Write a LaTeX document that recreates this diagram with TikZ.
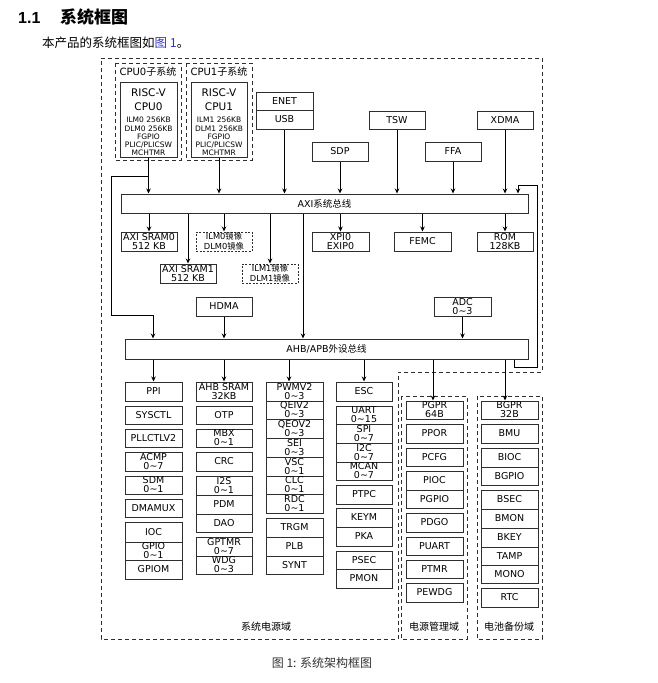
\documentclass[tikz,border=0pt]{standalone}
\usepackage{fontspec}
\setmainfont{DejaVu Sans}
\newfontfamily\cjk{Noto Sans CJK SC}
\newfontfamily\titlefont{Liberation Sans}
\usetikzlibrary{arrows.meta,calc}
\newcommand\zh[1]{{\cjk #1}}
\newcommand\tl{\textasciitilde}
\definecolor{ln}{HTML}{2E2E2E}
\definecolor{linkblue}{HTML}{3333CC}
\tikzset{
 box/.style={draw=ln, line width=1pt, inner sep=0pt, align=center, font=\fontsize{9.5}{9}\selectfont, text=black},
 dbox/.style={dash pattern=on 2pt off 1.5pt, font=\fontsize{8.3}{9.6}\selectfont},
 dom/.style={draw=ln, line width=1pt, dash pattern=on 4pt off 3pt},
 arr/.style={draw=black, line width=0.85pt, -{Stealth[length=5pt,width=4.5pt]}},
 lbl/.style={inner sep=0pt, font=\fontsize{10}{12}\selectfont},
 small/.style={inner sep=0pt, font=\fontsize{7.5}{8}\selectfont},
 big/.style={inner sep=0pt, font=\fontsize{10.5}{12}\selectfont},
}
\newcommand\bx[7][]{\node[box,#1,minimum width={#5pt-#3pt},minimum height={#6pt-#4pt}] (#2) at ({(#3+#5)/2},{(#4+#6)/2}) {#7};}
\begin{document}
\begin{tikzpicture}[x=1pt,y=-1pt]
\useasboundingbox (0,0) rectangle (658,683);
% title
\node[anchor=base west, inner sep=0pt, font=\titlefont\bfseries\fontsize{16}{18}\selectfont] (t11) at (18,23) {1.1};
\node[anchor=base west, inner sep=0pt, font=\cjk\bfseries\fontsize{17}{18}\selectfont] (t12) at (60,23) {系统框图};
\node[anchor=base west, inner sep=0pt, font=\cjk\fontsize{12.5}{13}\selectfont] (sub) at (42,47) {本产品的系统框图如\textcolor{linkblue}{图 1}。};
% domains
\draw[dom] (101,58) -- (542,58) -- (542,372) -- (398,372) -- (398,639) -- (101,639) -- cycle;
\draw[dom] (401,396) rectangle (467,639);
\draw[dom] (477,396) rectangle (542,639);
\draw[dom] (115,63) rectangle (181,160);
\draw[dom] (186,63) rectangle (252,160);
\node[lbl] (cpu0lbl) at (148,72) {CPU0\zh{子系统}};
\node[lbl] (cpu1lbl) at (219,72) {CPU1\zh{子系统}};
\node[lbl] (d1) at (266,627) {\zh{系统电源域}};
\node[lbl] (d2) at (434,627) {\zh{电源管理域}};
\node[lbl] (d3) at (509,627) {\zh{电池备份域}};
% CPU boxes
\bx{cpu0}{120}{82}{177}{157}{}
\bx{cpu1}{191}{82}{247}{157}{}
\node[big] (c0a) at (148.5,93) {RISC-V};
\node[big] (c0b) at (148.5,107) {CPU0};
\node[small] (c0c) at (148.5,120) {ILM0 256KB};
\node[small] (c0d) at (148.5,128.5) {DLM0 256KB};
\node[small] (c0e) at (148.5,137) {FGPIO};
\node[small] (c0f) at (148.5,145) {PLIC/PLICSW};
\node[small] (c0g) at (148.5,153) {MCHTMR};
\node[big] (c1a) at (219,93) {RISC-V};
\node[big] (c1b) at (219,107) {CPU1};
\node[small] (c1c) at (219,120) {ILM1 256KB};
\node[small] (c1d) at (219,128.5) {DLM1 256KB};
\node[small] (c1e) at (219,137) {FGPIO};
\node[small] (c1f) at (219,145) {PLIC/PLICSW};
\node[small] (c1g) at (219,153) {MCHTMR};
% top masters
\bx{enet}{256}{92}{313}{110}{ENET}
\bx{usb}{256}{110}{313}{129}{USB}
\bx{sdp}{312}{142}{368}{161}{SDP}
\bx{tsw}{369}{111}{425}{129}{TSW}
\bx{ffa}{425}{142}{481}{161}{FFA}
\bx{xdma}{477}{111}{533}{129}{XDMA}
% AXI
\bx{axi}{121}{194}{528}{213}{AXI\zh{系统总线}}
\bx{sram0}{121}{232}{177}{251}{AXI SRAM0\\512 KB}
\bx{sram1}{160}{264}{216}{283}{AXI SRAM1\\512 KB}
\bx[dbox]{ilm0}{196}{232}{252}{251}{ILM0\zh{镜像}\\DLM0\zh{镜像}}
\bx[dbox]{ilm1}{242}{264}{298}{283}{ILM1\zh{镜像}\\DLM1\zh{镜像}}
\bx{xpi}{312}{232}{369}{251}{XPI0\\EXIP0}
\bx{femc}{394}{232}{451}{251}{FEMC}
\bx{rom}{477}{232}{533}{251}{ROM\\128KB}
\bx{hdma}{196}{297}{252}{316}{HDMA}
\bx{adc}{434}{297}{491}{316}{ADC\\0\tl3}
\bx{ahb}{125}{339}{528}{359}{AHB/APB\zh{外设总线}}
% column 1
\bx{ppi}{125}{382}{182}{401}{PPI}
\bx{sysctl}{125}{406}{182}{424}{SYSCTL}
\bx{pll}{125}{429}{182}{447}{PLLCTLV2}
\bx{acmp}{125}{452}{182}{471}{ACMP\\0\tl7}
\bx{sdm}{125}{476}{182}{494}{SDM\\0\tl1}
\bx{dmamux}{125}{499}{182}{517}{DMAMUX}
\bx{ioc}{125}{522}{182}{542}{IOC}
\bx{gpio}{125}{542}{182}{560}{GPIO\\0\tl1}
\bx{gpiom}{125}{560}{182}{579}{GPIOM}
% column 2
\bx{ahbsram}{196}{382}{252}{401}{AHB SRAM\\32KB}
\bx{otp}{196}{406}{252}{424}{OTP}
\bx{mbx}{196}{429}{252}{447}{MBX\\0\tl1}
\bx{crc}{196}{452}{252}{471}{CRC}
\bx{i2s}{196}{476}{252}{495}{I2S\\0\tl1}
\bx{pdm}{196}{495}{252}{514}{PDM}
\bx{dao}{196}{514}{252}{532}{DAO}
\bx{gptmr}{196}{537}{252}{556}{GPTMR\\0\tl7}
\bx{wdg}{196}{556}{252}{574}{WDG\\0\tl3}
% column 3
\bx{pwm}{266}{382}{323}{401}{PWMV2\\0\tl3}
\bx{qei}{266}{401}{323}{419}{QEIV2\\0\tl3}
\bx{qeo}{266}{419}{323}{438}{QEOV2\\0\tl3}
\bx{sei}{266}{438}{323}{457}{SEI\\0\tl3}
\bx{vsc}{266}{457}{323}{476}{VSC\\0\tl1}
\bx{clc}{266}{476}{323}{494}{CLC\\0\tl1}
\bx{rdc}{266}{494}{323}{513}{RDC\\0\tl1}
\bx{trgm}{266}{518}{323}{537}{TRGM}
\bx{plb}{266}{537}{323}{556}{PLB}
\bx{synt}{266}{556}{323}{574}{SYNT}
% column 4
\bx{esc}{336}{382}{392}{401}{ESC}
\bx{uart}{336}{406}{392}{424}{UART\\0\tl15}
\bx{spi}{336}{424}{392}{443}{SPI\\0\tl7}
\bx{i2c}{336}{443}{392}{462}{I2C\\0\tl7}
\bx{mcan}{336}{462}{392}{480}{MCAN\\0\tl7}
\bx{ptpc}{336}{485}{392}{504}{PTPC}
\bx{keym}{336}{508}{392}{527}{KEYM}
\bx{pka}{336}{527}{392}{546}{PKA}
\bx{psec}{336}{551}{392}{569}{PSEC}
\bx{pmon}{336}{569}{392}{588}{PMON}
% column 5
\bx{pgpr}{406}{401}{463}{419}{PGPR\\64B}
\bx{ppor}{406}{424}{463}{443}{PPOR}
\bx{pcfg}{406}{448}{463}{466}{PCFG}
\bx{pioc}{406}{471}{463}{490}{PIOC}
\bx{pgpio}{406}{490}{463}{508}{PGPIO}
\bx{pdgo}{406}{513}{463}{532}{PDGO}
\bx{puart}{406}{537}{463}{555}{PUART}
\bx{ptmr}{406}{560}{463}{578}{PTMR}
\bx{pewdg}{406}{583}{463}{602}{PEWDG}
% column 6
\bx{bgpr}{481}{401}{538}{419}{BGPR\\32B}
\bx{bmu}{481}{424}{538}{443}{BMU}
\bx{bioc}{481}{448}{538}{467}{BIOC}
\bx{bgpio}{481}{467}{538}{485}{BGPIO}
\bx{bsec}{481}{490}{538}{509}{BSEC}
\bx{bmon}{481}{509}{538}{528}{BMON}
\bx{bkey}{481}{528}{538}{547}{BKEY}
\bx{tamp}{481}{547}{538}{565}{TAMP}
\bx{mono}{481}{565}{538}{583}{MONO}
\bx{rtc}{481}{588}{538}{607}{RTC}
% arrows into AXI
\draw[arr] (cpu0.south) -- (cpu0.south |- axi.north);
\draw[arr] (cpu1.south) -- (cpu1.south |- axi.north);
\draw[arr] (usb.south) -- (usb.south |- axi.north);
\draw[arr] (sdp.south) -- (sdp.south |- axi.north);
\draw[arr] (tsw.south) -- (tsw.south |- axi.north);
\draw[arr] (ffa.south) -- (ffa.south |- axi.north);
\draw[arr] (xdma.south) -- (xdma.south |- axi.north);
\draw[arr] (ahb.south -| 514,0) -- (514,367) -- (537,367) -- (537,185) -- (518,185) -- (axi.north -| 518,0);
\draw[arr] (cpu0.south |- 0,176) -- (111,176) -- (111,315) -- (153,315) -- (ahb.north -| 153,0);
% arrows out of AXI
\draw[arr] (axi.south -| sram0.north) -- (sram0.north);
\draw[arr] (axi.south -| sram1.north) -- (sram1.north);
\draw[arr] (axi.south -| ilm0.north) -- (ilm0.north);
\draw[arr] (axi.south -| ilm1.north) -- (ilm1.north);
\draw[arr] (axi.south -| xpi.north) -- (xpi.north);
\draw[arr] (axi.south -| femc.north) -- (femc.north);
\draw[arr] (axi.south -| rom.north) -- (rom.north);
\draw[arr] (axi.south -| 303,0) -- (ahb.north -| 303,0);
\draw[arr] (hdma.south) -- (hdma.south |- ahb.north);
\draw[arr] (adc.south) -- (adc.south |- ahb.north);
% arrows out of AHB
\draw[arr] (ahb.south -| ppi.north) -- (ppi.north);
\draw[arr] (ahb.south -| ahbsram.north) -- (ahbsram.north);
\draw[arr] (ahb.south -| 289,0) -- (pwm.north -| 289,0);
\draw[arr] (ahb.south -| esc.north) -- (esc.north);
\draw[arr] (ahb.south -| 433,0) -- (pgpr.north -| 433,0);
\draw[arr] (ahb.south -| 505,0) -- (bgpr.north -| 505,0);
% caption
\node[inner sep=0pt, font=\cjk\fontsize{12}{14}\selectfont, text=black!80] (cap) at (322,663) {图 1: 系统架构框图};
\end{tikzpicture}
\end{document}
